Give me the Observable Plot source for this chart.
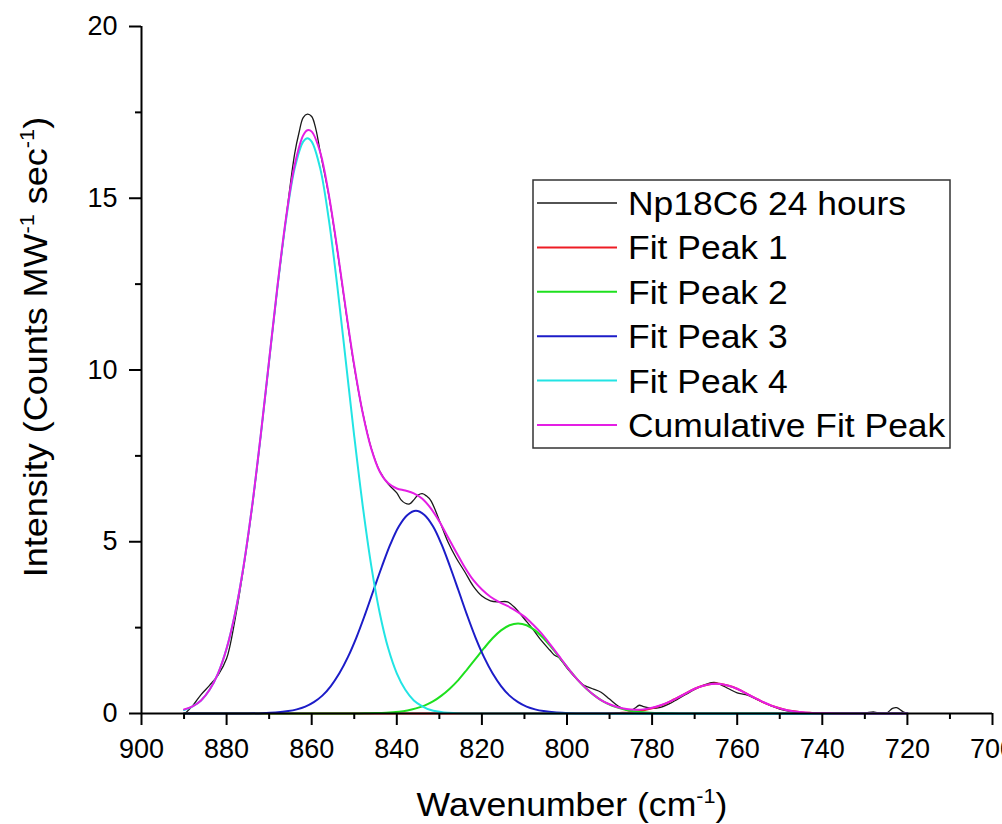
<!DOCTYPE html>
<html><head><meta charset="utf-8">
<script src="https://cdn.jsdelivr.net/npm/d3@7"></script>
<script src="https://cdn.jsdelivr.net/npm/@observablehq/plot@0.6"></script>
<style>
html,body{margin:0;padding:0;background:#fff;overflow:hidden}
#chart{position:relative;width:1002px;height:824px}
</style>
</head><body><div id="chart"></div>
<script>
// ---- data ----
const xDomain = [900, 700];
const yDomain = [0, 20];
const xMajorTicks = [900, 880, 860, 840, 820, 800, 780, 760, 740, 720, 700];
const xMinorTicks = [890, 870, 850, 830, 810, 790, 770, 750, 730, 710];
const yMajorTicks = [0, 5, 10, 15, 20];
const yMinorTicks = [2.5, 7.5, 12.5, 17.5];

const seriesNames = ["Np18C6 24 hours", "Fit Peak 1", "Fit Peak 2", "Fit Peak 3", "Fit Peak 4", "Cumulative Fit Peak"];
const seriesColors = ["#1a1a1a", "#ee1c24", "#1ee01e", "#1c1cc8", "#22e4e4", "#e41ee4"];

const dataX = [889.5,888,886,884,882,880,878,876,874,872,870,868,866,864,863,862,861,860,859,858,856,854,852,850,848,846,844,842,840,839,838,837,836,835,834,833,832,830,828,826,824,822,820,818,816,814,812,810,808,806,804,803,802,800,798,796,795,794,792,790,788,786,785,784,783,782,780,778,776,774,772,770,768,766,765,764,762,760,758,756,754,752,750,748,746,744,740,736,732,730,728,727,725,723.5,722.5,721,720];
const dataY = [0.03,0.22,0.55,0.82,1.12,1.60,2.75,4.25,6.00,8.05,10.25,12.45,14.45,16.30,16.90,17.35,17.45,17.38,17.00,16.35,15.10,13.50,11.75,10.10,8.75,7.72,7.05,6.68,6.42,6.22,6.12,6.10,6.22,6.36,6.40,6.33,6.20,5.62,5.00,4.52,4.12,3.70,3.42,3.28,3.25,3.25,3.05,2.75,2.45,2.12,1.84,1.70,1.64,1.32,1.04,0.82,0.77,0.72,0.62,0.42,0.22,0.10,0.08,0.16,0.24,0.20,0.15,0.18,0.28,0.42,0.56,0.70,0.82,0.90,0.90,0.85,0.72,0.60,0.55,0.45,0.33,0.22,0.13,0.07,0.03,0.01,0.00,0.00,0.00,0.01,0.05,0.02,0.00,0.15,0.17,0.05,0.00];

const peak1X = [890,800,792,789,787,785,783,781,779,777,775,773,771,769,767,765,763,761,759,757,755,753,751,749,747,745,743,741,738,720];
const peak1Y = [0,0,0,0.01,0.02,0.04,0.07,0.12,0.19,0.28,0.40,0.53,0.66,0.77,0.84,0.87,0.84,0.77,0.66,0.53,0.40,0.28,0.19,0.12,0.07,0.04,0.02,0.01,0,0];

const peak2X = [890,850,846.5,842.5,839.5,837.5,835.5,833.5,831.5,829.5,827.5,825.5,823.5,821.5,819.5,817.5,815.5,813.5,811.5,809.5,807.5,805.5,803.5,801.5,799.5,797.5,795.5,793.5,791.5,789.5,787.5,785.5,783.5,780.5,776.5,772,720];
const peak2Y = [0,0,0.01,0.02,0.05,0.09,0.15,0.23,0.35,0.52,0.73,0.98,1.28,1.59,1.90,2.19,2.42,2.57,2.62,2.57,2.42,2.19,1.90,1.59,1.28,0.98,0.73,0.52,0.35,0.23,0.15,0.09,0.05,0.02,0.01,0,0];

const peak3X = [890,875,871.5,868.5,865.5,863.5,861.5,859.5,857.5,855.5,853.5,851.5,849.5,847.5,845.5,843.5,841.5,839.5,837.5,835.5,833.5,831.5,829.5,827.5,825.5,823.5,821.5,819.5,817.5,815.5,813.5,811.5,809.5,807.5,805.5,802.5,799.5,796,720];
const peak3Y = [0,0,0.01,0.03,0.07,0.12,0.20,0.33,0.52,0.80,1.17,1.64,2.21,2.87,3.58,4.28,4.93,5.45,5.78,5.90,5.78,5.45,4.93,4.28,3.58,2.87,2.21,1.64,1.17,0.80,0.52,0.33,0.20,0.12,0.07,0.03,0.01,0,0];

const peak4X = [890,888,886,884,882,880,878,876,874,872,870,868,866,864,862,861,860,858,856,854,852,850,848,846,844,842,840,838,836,834,832,829,826,822,720];
const peak4Y = [0.10,0.21,0.38,0.69,1.17,1.89,2.92,4.30,6.04,8.07,10.27,12.46,14.40,15.87,16.65,16.75,16.65,15.87,14.40,12.46,10.27,8.07,6.04,4.30,2.92,1.89,1.17,0.69,0.38,0.21,0.10,0.03,0.01,0,0];

const cumulX = [890,888,886,884,882,880,878,876,874,872,870,868,866,864,862,861,860,858,856,854,852,850,848,846,844,842,840,838,836,834,832,830,828,826,824,822,820,818,816,814,812,810,808,806,804,802,800,798,796,794,792,790,788,786,784,782,780,778,776,774,772,770,768,766,764,762,760,758,756,754,752,750,748,746,744,742,740,736,730,720];
const cumulY = [0.12,0.21,0.38,0.69,1.17,1.89,2.92,4.30,6.04,8.08,10.29,12.49,14.46,15.97,16.83,16.98,16.94,16.34,15.12,13.53,11.78,10.13,8.74,7.71,7.04,6.70,6.55,6.49,6.41,6.25,5.97,5.59,5.14,4.69,4.25,3.88,3.61,3.40,3.25,3.13,2.99,2.82,2.59,2.33,2.02,1.69,1.36,1.05,0.79,0.57,0.39,0.27,0.18,0.13,0.11,0.12,0.17,0.24,0.34,0.46,0.59,0.72,0.81,0.86,0.86,0.81,0.72,0.59,0.46,0.34,0.23,0.15,0.09,0.05,0.03,0.01,0.01,0,0,0];

const seriesX = [dataX, peak1X, peak2X, peak3X, peak4X, cumulX];
const seriesY = [dataY, peak1Y, peak2Y, peak3Y, peak4Y, cumulY];
const seriesWidth = [1.3, 2, 2, 2, 2, 2];

// ---- chart ----
const font = "'Liberation Sans', Arial, Helvetica, sans-serif";
const rows = (xs, ys) => xs.map((x, i) => ({x, y: ys[i]}));

const lineMarks = seriesNames.map((name, k) =>
  Plot.line(rows(seriesX[k], seriesY[k]), {
    x: "x", y: "y", stroke: seriesColors[k], strokeWidth: seriesWidth[k], curve: "catmull-rom"
  })
);

const plot = Plot.plot({
  width: 1002,
  height: 824,
  marginLeft: 141,
  marginRight: 10,
  marginTop: 26,
  marginBottom: 111,
  style: {fontFamily: font, fontSize: "27px", color: "#000", background: "#fff", overflow: "visible"},
  x: {domain: xDomain},
  y: {domain: yDomain},
  marks: [
    ...lineMarks,
    Plot.ruleY([yDomain[0]], {stroke: "#000", strokeWidth: 2}),
    Plot.ruleX([xDomain[0]], {stroke: "#000", strokeWidth: 2}),
    Plot.axisX(xMinorTicks, {tickSize: 6, strokeWidth: 2, tickFormat: () => "", label: null}),
    Plot.axisX(xMajorTicks, {tickSize: 12, tickPadding: 13, strokeWidth: 2, label: null, fontSize: 27, tickFormat: d => String(d)}),
    Plot.axisY(yMinorTicks, {tickSize: 6, strokeWidth: 2, tickFormat: () => "", label: null}),
    Plot.axisY(yMajorTicks, {tickSize: 12, tickPadding: 12, strokeWidth: 2, label: null, fontSize: 27, tickFormat: d => String(d)})
  ]
});
plot.style.overflow = "visible";
document.getElementById("chart").appendChild(plot);

const svg = d3.select(plot);

// x axis title
const xt = svg.append("text")
  .attr("transform", "translate(572,816) scale(1.08,1)")
  .attr("text-anchor", "middle")
  .attr("font-family", font).attr("font-size", 33).attr("fill", "#000");
xt.append("tspan").text("Wavenumber (cm");
xt.append("tspan").attr("dy", -13).attr("font-size", 20).text("-1");
xt.append("tspan").attr("dy", 13).text(")");

// y axis title
const yt = svg.append("text")
  .attr("transform", "translate(47,347) rotate(-90) scale(1.09,1)")
  .attr("text-anchor", "middle")
  .attr("font-family", font).attr("font-size", 33).attr("fill", "#000");
yt.append("tspan").text("Intensity (Counts MW");
yt.append("tspan").attr("dy", -13).attr("font-size", 20).text("-1");
yt.append("tspan").attr("dy", 13).text(" sec");
yt.append("tspan").attr("dy", -13).attr("font-size", 20).text("-1");
yt.append("tspan").attr("dy", 13).text(")");

// legend
const lg = svg.append("g");
lg.append("rect").attr("x", 533).attr("y", 180).attr("width", 417).attr("height", 268)
  .attr("fill", "#fff").attr("stroke", "#333").attr("stroke-width", 1.5);
seriesNames.forEach((name, k) => {
  const cy = 203 + k * 44.4;
  lg.append("line").attr("x1", 537).attr("x2", 617).attr("y1", cy).attr("y2", cy)
    .attr("stroke", seriesColors[k]).attr("stroke-width", k === 0 ? 1.3 : 2);
  lg.append("text").attr("transform", `translate(628,${cy + 12}) scale(1.075,1)`)
    .attr("text-anchor", "start")
    .attr("font-family", font).attr("font-size", 33).attr("fill", "#000").text(name);
});
</script></body></html>
